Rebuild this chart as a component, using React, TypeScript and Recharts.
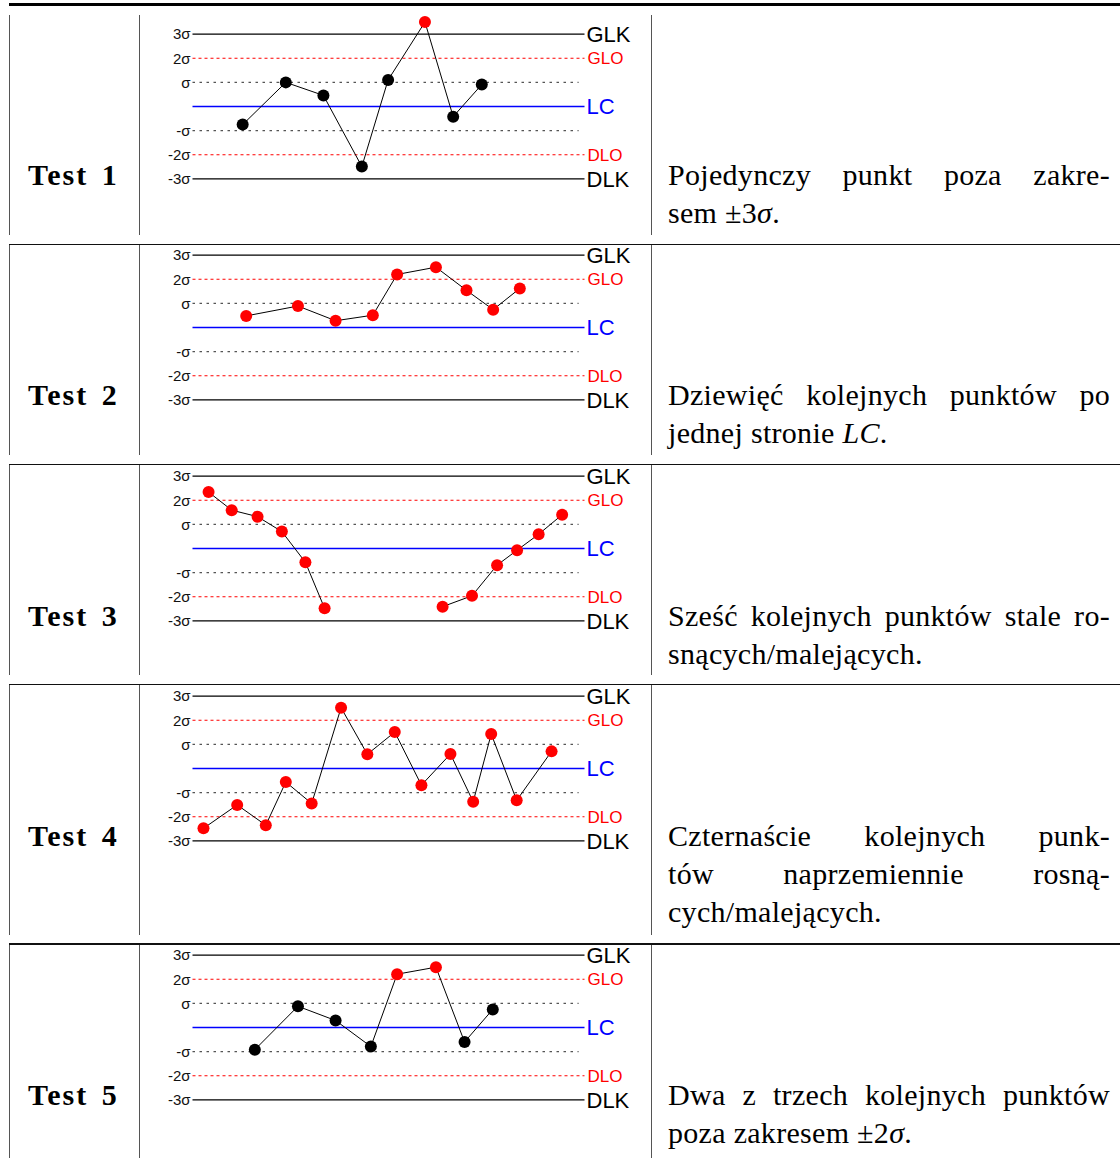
import { LineChart, Line, XAxis, YAxis, ReferenceLine } from "recharts";

// sample positions (0-100 across the chart) and values in sigma units
const test1X = [12.8, 23.8, 33.4, 43.2, 49.9, 59.3, 66.5, 73.8];
const test1Y = [-0.75, 1.0, 0.46, -2.49, 1.1, 3.5, -0.42, 0.91];
const test1Hits = [false, false, false, false, false, true, false, false];

const test2X = [13.7, 26.9, 36.5, 46.0, 52.2, 62.1, 69.9, 76.7, 83.5];
const test2Y = [0.48, 0.89, 0.28, 0.51, 2.2, 2.5, 1.54, 0.74, 1.62];
const test2Hits = [true, true, true, true, true, true, true, true, true];

const test3X = [4.1, 10.0, 16.6, 22.8, 28.8, 33.7, 63.8, 71.3, 77.7, 82.8, 88.3, 94.3];
const test3Y = [2.34, 1.59, 1.32, 0.7, -0.57, -2.48, -2.41, -1.96, -0.69, -0.07, 0.59, 1.4];
const test3Hits = [true, true, true, true, true, true, true, true, true, true, true, true];
const test3GapAfter = 5;

const test4X = [2.8, 11.4, 18.7, 23.8, 30.4, 37.9, 44.6, 51.6, 58.4, 65.8, 71.6, 76.2, 82.7, 91.6];
const test4Y = [-2.48, -1.51, -2.35, -0.56, -1.45, 2.52, 0.59, 1.51, -0.69, 0.6, -1.38, 1.43, -1.32, 0.71];
const test4Hits = test4X.map(() => true);

const test5X = [15.9, 26.9, 36.5, 45.5, 52.2, 62.1, 69.4, 76.6];
const test5Y = [-0.92, 0.88, 0.29, -0.79, 2.21, 2.5, -0.6, 0.75];
const test5Hits = [false, false, false, false, true, true, false, false];

const sigmaTicks = [-3, -2, -1, 1, 2, 3];

const testNames = ["Test 1", "Test 2", "Test 3", "Test 4", "Test 5"];

const descriptions = [
  ["Pojedynczy punkt poza zakre-", "sem ±3σ."],
  ["Dziewięć kolejnych punktów po", "jednej stronie LC."],
  ["Sześć kolejnych punktów stale ro-", "snących/malejących."],
  ["Czternaście kolejnych punk-", "tów naprzemiennie rosną-", "cych/malejących."],
  ["Dwa z trzech kolejnych punktów", "poza zakresem ±2σ."],
];

const SANS = "'Liberation Sans', Arial, sans-serif";
const SERIF = "'Liberation Serif', 'Times New Roman', serif";
const PX_PER_SIGMA = 24.1;

const sigmaLabel = (v: number) =>
  v === 1 ? "σ" : v === -1 ? "-σ" : `${v}σ`;

function buildData(xs: number[], ys: number[], hits: boolean[], gapAfter?: number) {
  const rows: { x: number; y: number | null; hit: boolean }[] = [];
  xs.forEach((x, i) => {
    rows.push({ x, y: ys[i], hit: hits[i] });
    if (gapAfter === i) {
      rows.push({ x: (x + xs[i + 1]) / 2, y: null, hit: false });
    }
  });
  return rows;
}

const renderDot = (p: any) => {
  const { cx, cy, payload, index } = p;
  if (cy == null || payload == null || payload.y == null) return <g key={`d${index}`} />;
  return (
    <circle
      key={`d${index}`}
      cx={cx}
      cy={cy}
      r={6}
      fill={payload.hit ? "#ff0000" : "#000000"}
    />
  );
};

interface ChartProps {
  xs: number[];
  ys: number[];
  hits: boolean[];
  gapAfter?: number;
  top: number;
}

function ControlChart({ xs, ys, hits, gapAfter, top }: ChartProps) {
  const data = buildData(xs, ys, hits, gapAfter);
  const big = { fontSize: 22, fontFamily: SANS, offset: 2 };
  const small = { fontSize: 17, fontFamily: SANS, offset: 3 };
  return (
    <div style={{ position: "absolute", left: 140, top }}>
      <LineChart
        width={510}
        height={Math.round(PX_PER_SIGMA * 8)}
        data={data}
        margin={{ top: 0, right: 65.5, bottom: 0, left: 0 }}
      >
        <XAxis type="number" dataKey="x" domain={[0, 100]} hide />
        <YAxis
          type="number"
          domain={[-4, 4]}
          ticks={sigmaTicks}
          tickFormatter={sigmaLabel}
          axisLine={false}
          tickLine={false}
          tickSize={0}
          tickMargin={2}
          width={52.5}
          interval={0}
          tick={{ fill: "#111", fontSize: 15, fontFamily: SANS }}
        />
        <ReferenceLine
          y={3}
          stroke="#000"
          strokeWidth={1.3}
          label={{ value: "GLK", position: "right", fill: "#000", ...big }}
        />
        <ReferenceLine
          y={2}
          stroke="#ff0000"
          strokeDasharray="3 3"
          strokeWidth={1.2}
          label={{ value: "GLO", position: "right", fill: "#ff0000", ...small }}
        />
        <ReferenceLine
          segment={[{ x: 0, y: 1 }, { x: 98.5, y: 1 }]}
          stroke="#555"
          strokeDasharray="2.5 4.5"
          strokeWidth={1.2}
        />
        <ReferenceLine
          y={0}
          stroke="#0000ff"
          strokeWidth={1.5}
          label={{ value: "LC", position: "right", fill: "#0000ff", ...big }}
        />
        <ReferenceLine
          segment={[{ x: 0, y: -1 }, { x: 98.5, y: -1 }]}
          stroke="#555"
          strokeDasharray="2.5 4.5"
          strokeWidth={1.2}
        />
        <ReferenceLine
          y={-2}
          stroke="#ff0000"
          strokeDasharray="3 3"
          strokeWidth={1.2}
          label={{ value: "DLO", position: "right", fill: "#ff0000", ...small }}
        />
        <ReferenceLine
          y={-3}
          stroke="#000"
          strokeWidth={1.3}
          label={{ value: "DLK", position: "right", fill: "#000", ...big }}
        />
        <Line
          type="linear"
          dataKey="y"
          stroke="#000"
          strokeWidth={1}
          dot={renderDot}
          activeDot={false}
          connectNulls={false}
          isAnimationActive={false}
        />
      </LineChart>
    </div>
  );
}

// italic math symbols inside the description text
function withMath(line: string) {
  return line.split(/(σ|LC)/).map((part, i) =>
    part === "σ" || part === "LC" ? <i key={i}>{part}</i> : <span key={i}>{part}</span>
  );
}

const sigma3Tops = [33.8, 254.9, 475.9, 695.9, 955.0];
const firstBaselines = [185, 405, 626, 846, 1105];
const rowSpans = [
  [15, 235],
  [245, 455],
  [465, 675],
  [685, 935],
  [945, 1158],
];
const ruleYs = [243.5, 463.5, 683.5, 943];

export default function App() {
  const charts = [
    { xs: test1X, ys: test1Y, hits: test1Hits },
    { xs: test2X, ys: test2Y, hits: test2Hits },
    { xs: test3X, ys: test3Y, hits: test3Hits, gapAfter: test3GapAfter },
    { xs: test4X, ys: test4Y, hits: test4Hits },
    { xs: test5X, ys: test5Y, hits: test5Hits },
  ];
  const lineTop = 29;
  return (
    <div
      style={{
        position: "absolute",
        left: 0,
        top: 0,
        width: 1120,
        height: 1158,
        overflow: "hidden",
        background: "#fff",
      }}
    >
      <div style={{ position: "absolute", left: 9, top: 3, width: 1111, height: 2.5, background: "#000" }} />
      {ruleYs.map((y) => (
        <div
          key={y}
          style={{ position: "absolute", left: 9, top: y, width: 1111, height: 1.6, background: "#111" }}
        />
      ))}
      {rowSpans.map(([a, b], r) =>
        [8.5, 138.5, 650.5].map((x) => (
          <div
            key={`${r}-${x}`}
            style={{ position: "absolute", left: x, top: a, width: 1.2, height: b - a, background: "#555" }}
          />
        ))
      )}
      {charts.map((c, i) => (
        <ControlChart key={i} {...c} top={sigma3Tops[i] - PX_PER_SIGMA} />
      ))}
      {testNames.map((name, i) => (
        <div
          key={name}
          style={{
            position: "absolute",
            left: 28,
            top: firstBaselines[i] - lineTop,
            fontFamily: SERIF,
            fontWeight: "bold",
            fontSize: 30,
            lineHeight: "38px",
            letterSpacing: 2,
            wordSpacing: 4,
            whiteSpace: "nowrap",
          }}
        >
          {name}
        </div>
      ))}
      {descriptions.map((lines, i) => (
        <div
          key={i}
          style={{
            position: "absolute",
            left: 668,
            top: firstBaselines[i] - lineTop,
            width: 442,
            fontFamily: SERIF,
            fontSize: 30,
            lineHeight: "38px",
            letterSpacing: 0.3,
          }}
        >
          {lines.map((line, j) => {
            const last = j === lines.length - 1;
            return (
              <div
                key={j}
                style={{
                  textAlign: last ? "left" : "justify",
                  textAlignLast: last ? "left" : "justify",
                }}
              >
                {withMath(line)}
              </div>
            );
          })}
        </div>
      ))}
    </div>
  );
}
